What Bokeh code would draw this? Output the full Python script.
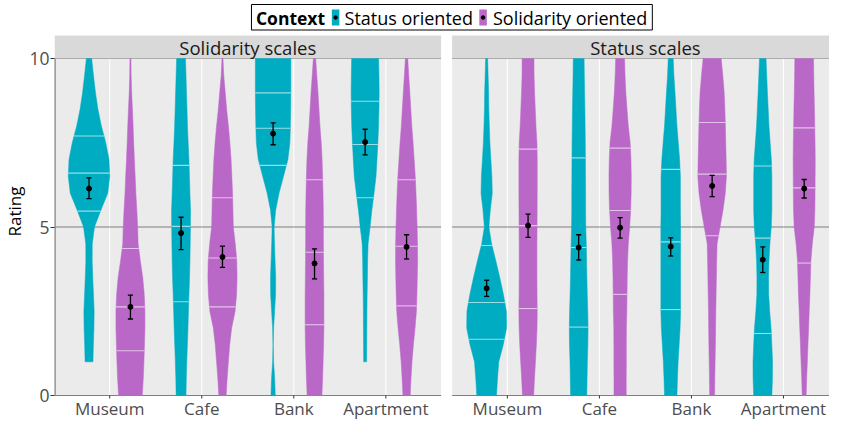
import numpy as np
from bokeh.plotting import figure
from bokeh.models import Range1d, FixedTicker
from bokeh.core.properties import value
from bokeh.embed import file_html
from bokeh.resources import INLINE

# ---------------- data ----------------
places = ["Museum", "Cafe", "Bank", "Apartment"]
contexts = ["Status oriented", "Solidarity oriented"]
panels = ["Solidarity scales", "Status scales"]
colors = ["#00ACC1", "#BA68C8"]

rating_grid = [0.0, 0.5, 1.0, 1.5, 2.0, 2.5, 3.0, 3.5, 4.0, 4.5, 5.0,
               5.5, 6.0, 6.5, 7.0, 7.5, 8.0, 8.5, 9.0, 9.5, 10.0]

# relative violin density at each rating of rating_grid (None = outside observed range)
sol_museum_status = [None, None, 4, 4.4, 5, 5.2, 4.5, 3.8, 3.2, 3.3, 5.5, 12, 19, 21, 20.3, 17, 12.5, 9, 6.5, 4.5, 2.7]
sol_museum_solid = [12, 13, 13.7, 14.2, 14.7, 14.7, 14, 12.5, 10, 7.8, 7.3, 6.5, 5.5, 4.8, 4, 3.3, 2.7, 2, 1.2, 0.7, 0.5]
sol_cafe_status = [5, 5.3, 5.8, 6.4, 7, 7.5, 8, 8.6, 9, 9.3, 9.5, 9.6, 9, 8.5, 8, 7.2, 6.5, 6, 5.5, 5, 4.5]
sol_cafe_solid = [3.7, 4.7, 6, 7.3, 9.3, 12.8, 14.3, 14.8, 14.5, 13, 11, 10.6, 10.2, 9.5, 8.7, 7.5, 6, 4.2, 2.8, 1.3, 0.5]
sol_bank_status = [2.2, 1.6, 0.5, 0.1, 0.5, 1.5, 2.5, 2.6, 2, 1.4, 1, 2.6, 6, 10.5, 15, 17, 17.5, 17.8, 18, 18, 18]
sol_bank_solid = [7.5, 8.2, 8.7, 9.2, 9.5, 9.5, 9.5, 9.3, 9.1, 9, 9, 8.9, 8.6, 8.2, 7.7, 6.8, 5.5, 4.5, 3.5, 2.3, 1.2]
sol_apt_status = [None, None, 1.5, 1.6, 1.7, 1.8, 2, 2.3, 2.5, 3, 5, 6.8, 9, 11, 12, 12.9, 13.6, 14, 14.2, 14, 13.7]
sol_apt_solid = [3.7, 4.5, 5.5, 6.9, 8.6, 10, 10.5, 10.9, 11.2, 11.1, 10.7, 10.2, 9.6, 8.8, 7.7, 6.6, 5.3, 4.3, 3.3, 2.2, 1.2]

sta_museum_status = [10, 11, 12.3, 16.8, 20.2, 20, 17, 13.3, 9.3, 5, 2.3, 3.7, 5.7, 5.3, 4.3, 3.3, 2.7, 2.2, 2, 1.5, 1]
sta_museum_solid = [5.7, 6.5, 7.5, 8.4, 9.1, 9.3, 9.1, 9, 9, 9, 9.1, 9.2, 9.3, 9.3, 9.3, 9, 8, 7.3, 6.6, 6.1, 6]
sta_cafe_status = [8.2, 8.5, 8.8, 9.3, 9.5, 9.2, 8.7, 8.3, 8, 7.7, 7.2, 7, 7, 6.9, 6.8, 6.7, 6.5, 6.3, 6, 5.7, 5.5]
sta_cafe_solid = [6.2, 6.2, 6.3, 6.3, 6.4, 6.8, 7, 7.2, 7.6, 8.3, 9.7, 10.7, 11.2, 11.3, 11, 10.2, 8.3, 7, 5.8, 5, 4.5]
sta_bank_status = [6.3, 6.8, 7.5, 8.5, 9.5, 10, 10, 10, 10, 10, 10, 9.8, 9.8, 9.8, 9, 7.7, 6.3, 5.3, 4.3, 3.2, 2.5]
sta_bank_solid = [2.5, 2.7, 3, 3.3, 3.5, 3.7, 4, 4.3, 4.6, 5, 8, 11, 13.3, 14.5, 14.2, 13.8, 13.4, 12.9, 12.2, 10.8, 9.2]
sta_apt_status = [9.2, 9.8, 9.9, 9.2, 8.4, 7, 6, 5.9, 6.3, 7.2, 8.6, 9.2, 9.2, 9.2, 8.7, 7.5, 6.3, 5.5, 4.7, 4, 3.3]
sta_apt_solid = [2, 2.5, 3.2, 3.8, 4.5, 5.1, 5.8, 6.3, 6.8, 8.2, 10.2, 10.8, 11, 11.1, 11.2, 11, 10.7, 10.4, 10, 9.7, 9.5]

# order per panel: Museum(status, solidarity), Cafe(...), Bank(...), Apartment(...)
sol_q75 = [7.7, 4.36, 6.83, 5.87, 8.98, 6.4, 8.73, 6.4]
sol_q50 = [6.6, 2.63, 5.02, 4.08, 7.93, 4.25, 7.45, 4.43]
sol_q25 = [5.47, 1.33, 2.78, 2.63, 6.83, 2.1, 5.87, 2.66]
sol_mean = [6.14, 2.63, 4.82, 4.11, 7.77, 3.92, 7.52, 4.41]
sol_ci_hi = [6.46, 2.98, 5.29, 4.43, 8.09, 4.35, 7.9, 4.77]
sol_ci_lo = [5.84, 2.27, 4.33, 3.80, 7.44, 3.46, 7.14, 4.05]

sta_q75 = [4.45, 7.31, 7.05, 7.34, 6.71, 8.1, 6.81, 7.94]
sta_q50 = [2.76, 5.04, 4.39, 5.49, 4.56, 6.57, 4.67, 6.16]
sta_q25 = [1.67, 2.58, 2.03, 3.0, 2.55, 4.74, 1.84, 3.93]
sta_mean = [3.18, 5.04, 4.39, 4.98, 4.42, 6.22, 4.03, 6.14]
sta_ci_hi = [3.42, 5.38, 4.77, 5.28, 4.68, 6.53, 4.41, 6.41]
sta_ci_lo = [2.94, 4.69, 4.02, 4.67, 4.14, 5.9, 3.65, 5.86]

y_ticks = [0, 5, 10]

densities = {
    "Solidarity scales": [sol_museum_status, sol_museum_solid, sol_cafe_status, sol_cafe_solid,
                          sol_bank_status, sol_bank_solid, sol_apt_status, sol_apt_solid],
    "Status scales": [sta_museum_status, sta_museum_solid, sta_cafe_status, sta_cafe_solid,
                      sta_bank_status, sta_bank_solid, sta_apt_status, sta_apt_solid],
}
stats = {
    "Solidarity scales": (sol_q25, sol_q50, sol_q75, sol_mean, sol_ci_lo, sol_ci_hi),
    "Status scales": (sta_q25, sta_q50, sta_q75, sta_mean, sta_ci_lo, sta_ci_hi),
}

# ---------------- layout ----------------
FONT = value("Open Sans")
FS = value("18.5px")
FS_LEG = value("18px")
FS_TICK = value("17px")
PANEL_OFFSET = [0.0, 4.32]        # x offset of each facet panel
PANEL_LO, PANEL_HI = 0.4, 4.6     # panel extent (category scale)
DODGE = 0.225
HALF = 0.225
H = 422
TOP10, BOT0 = 58, 395             # figure pixel rows of rating 10 and 0
PXY = (BOT0 - TOP10) / 10.0
YTOP = 10 + TOP10 / PXY
YBOT = -(H - BOT0) / PXY
X_END = 8.82
FRAME_LEFT = 54                   # approx. picture px of frame left
PXX = (837 - FRAME_LEFT) / (X_END - PANEL_LO)


def xpx(px):
    return PANEL_LO + (px - FRAME_LEFT) / PXX


def ypx(py):
    return 10 + (TOP10 - py) / PXY


p = figure(width=829, height=H, x_range=Range1d(PANEL_LO, X_END), y_range=Range1d(YBOT, YTOP),
           output_backend="svg", toolbar_location=None,
           min_border_left=46, min_border_right=0, min_border_top=0, min_border_bottom=0)
p.outline_line_color = None
p.background_fill_color = "white"
p.border_fill_color = "white"
p.grid.visible = False
p.xaxis.visible = False

dmax = max(d for arr in densities.values() for v in arr for d in v if d is not None)

for pi, panel in enumerate(panels):
    off = PANEL_OFFSET[pi]
    x0, x1 = PANEL_LO + off, PANEL_HI + off
    cats = [i + 1 + off for i in range(len(places))]
    # panel background
    p.quad(left=[x0], right=[x1], bottom=[0], top=[10], fill_color="#EBEBEB", line_color=None)
    # vertical grid lines at categories
    p.segment(x0=cats, y0=[0] * 4, x1=cats, y1=[10] * 4, line_color="white", line_width=1.1)
    # reference lines
    p.segment(x0=[x0] * 3, y0=y_ticks, x1=[x1] * 3, y1=y_ticks, line_color="#7F7F7F", line_width=1.2)
    # x ticks and labels
    p.segment(x0=cats, y0=[0] * 4, x1=cats, y1=[-3 / PXY] * 4, line_color="#333333", line_width=1)
    p.text(x=cats, y=[ypx(BOT0 + 1.5)] * 4, text=places, text_font=FONT, text_font_size=FS_TICK,
           text_color="#4D4D4D", text_align="center", text_baseline="top")
    # strip
    p.quad(left=[x0], right=[x1], bottom=[10.0], top=[ypx(35)], fill_color="#D9D9D9", line_color=None)
    p.text(x=[(x0 + x1) / 2], y=[ypx(46.5)], text=[panel], text_font=FONT, text_font_size=FS,
           text_color="#1A1A1A", text_align="center", text_baseline="middle")

    q25, q50, q75, mean, lo, hi = stats[panel]
    xs_list, ys_list, fills = [], [], []
    qx0, qx1, qy = [], [], []
    centers = []
    for k, dens in enumerate(densities[panel]):
        ci = k // 2
        gi = k % 2
        c = ci + 1 + off + (-DODGE if gi == 0 else DODGE)
        centers.append(c)
        ys = [r for r, d in zip(rating_grid, dens) if d is not None]
        ws = [d / dmax * HALF for d in dens if d is not None]
        xs_list.append([c + w for w in ws] + [c - w for w in reversed(ws)])
        ys_list.append(ys + ys[::-1])
        fills.append(colors[gi])
        for q in (q25[k], q50[k], q75[k]):
            w = float(np.interp(q, ys, ws))
            qx0.append(c - w)
            qx1.append(c + w)
            qy.append(q)
    p.patches(xs=xs_list, ys=ys_list, fill_color=fills, line_color=fills, line_width=0.5)
    p.segment(x0=qx0, y0=qy, x1=qx1, y1=qy, line_color="white", line_alpha=0.6, line_width=1.1)
    cap = 0.028
    p.segment(x0=centers, y0=lo, x1=centers, y1=hi, line_color="black", line_width=1.3)
    p.segment(x0=[c - cap for c in centers], y0=hi, x1=[c + cap for c in centers], y1=hi,
              line_color="black", line_width=1.3)
    p.segment(x0=[c - cap for c in centers], y0=lo, x1=[c + cap for c in centers], y1=lo,
              line_color="black", line_width=1.3)
    p.scatter(x=centers, y=mean, size=5, fill_color="black", line_color="black")

# left axis line of first panel
p.segment(x0=[PANEL_LO], y0=[0], x1=[PANEL_LO], y1=[10], line_color="#7F7F7F", line_width=2.4)

# ---------------- legend ----------------
ly = ypx(17)
p.quad(left=[xpx(253)], right=[xpx(658)], bottom=[ypx(29.5)], top=[ypx(4)], fill_color="white",
       line_color="black", line_width=1)
p.text(x=[xpx(257.5)], y=[ly], text=["Context"], text_font=FONT, text_font_size=value("17.5px"),
       text_font_style="bold", text_color="black", text_baseline="middle")
key_x = [xpx(338), xpx(487)]
hw = 3.8 / PXX
p.quad(left=[k - hw for k in key_x], right=[k + hw for k in key_x], bottom=[ypx(25)] * 2,
       top=[ypx(9)] * 2, fill_color=colors, line_color=None)
p.scatter(x=key_x, y=[ly] * 2, size=3.5, fill_color="black", line_color="black")
p.text(x=[xpx(347), xpx(497)], y=[ly] * 2, text=contexts, text_font=FONT, text_font_size=FS_LEG,
       text_color="black", text_baseline="middle")

# ---------------- y axis ----------------
p.yaxis.ticker = FixedTicker(ticks=y_ticks)
p.yaxis.axis_label = "Rating"
p.yaxis.axis_label_text_font = "Open Sans"
p.yaxis.axis_label_text_font_size = "17px"
p.yaxis.axis_label_text_font_style = "normal"
p.yaxis.axis_label_text_color = "black"
p.yaxis.axis_label_standoff = 0
p.yaxis.axis_line_color = None
p.yaxis.major_tick_line_color = "#333333"
p.yaxis.major_tick_out = 4
p.yaxis.major_tick_in = 0
p.yaxis.minor_tick_line_color = None
p.yaxis.major_label_text_font = "Open Sans"
p.yaxis.major_label_text_font_size = "17.5px"
p.yaxis.major_label_text_color = "#4D4D4D"
p.yaxis.major_label_standoff = 1

open("out.html", "w").write(file_html(p, INLINE))
